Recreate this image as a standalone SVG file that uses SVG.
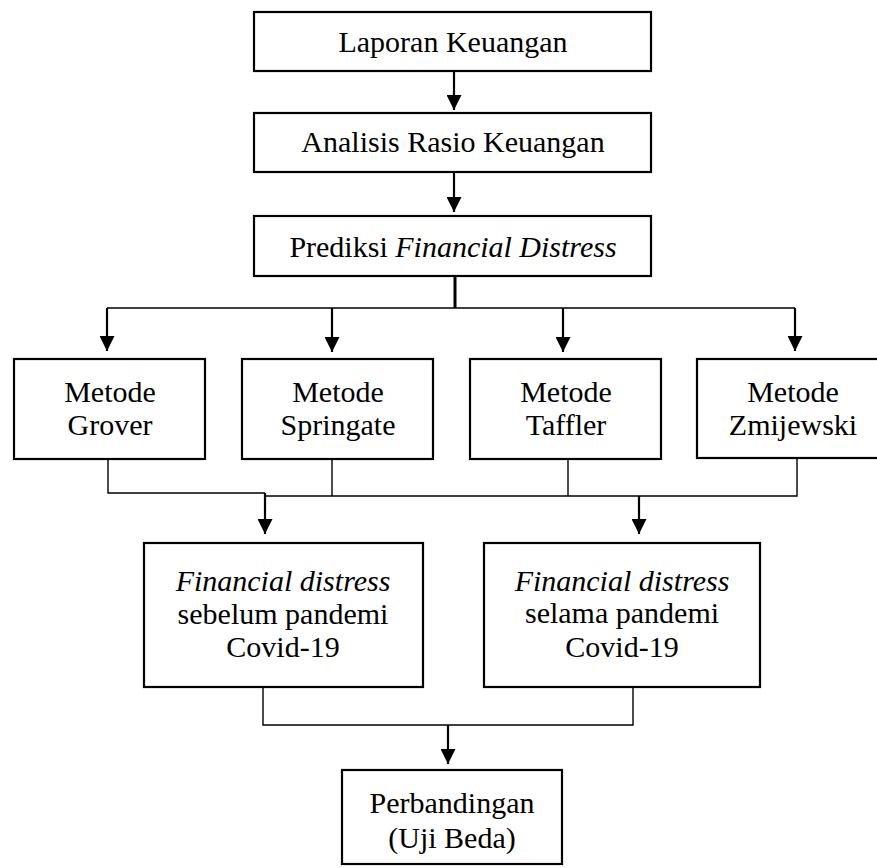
<svg xmlns="http://www.w3.org/2000/svg" width="877" height="868" viewBox="0 0 877 868">
<style>
.box{fill:#fff;stroke:#000;stroke-width:2.2}
.t{font-family:"Liberation Serif","Times New Roman",serif;font-size:30px;fill:#000;text-anchor:middle}
.i{font-style:italic}
.ln{fill:none;stroke:#000;stroke-width:1.4}
.ar{fill:none;stroke:#000;stroke-width:2.2}
</style>
<defs>
<marker id="ah" viewBox="0 0 10 10" refX="10" refY="5" markerWidth="15" markerHeight="15" markerUnits="userSpaceOnUse" orient="auto">
<path d="M0,0 L10,5 L0,10 z" fill="#000"/>
</marker>
</defs>
<rect width="877" height="868" fill="#fff"/>
<g id="connectors">
<line class="ar" x1="454" y1="71" x2="454" y2="110" marker-end="url(#ah)"/>
<line class="ar" x1="454" y1="172" x2="454" y2="212" marker-end="url(#ah)"/>
<line x1="455" y1="276" x2="455" y2="308" stroke="#000" stroke-width="3"/>
<line class="ln" x1="107" y1="308" x2="795" y2="308"/>
<line class="ar" x1="107" y1="308" x2="107" y2="351" marker-end="url(#ah)"/>
<line class="ar" x1="332" y1="308" x2="332" y2="352" marker-end="url(#ah)"/>
<line class="ar" x1="563" y1="308" x2="563" y2="352" marker-end="url(#ah)"/>
<line class="ar" x1="795" y1="308" x2="795" y2="351" marker-end="url(#ah)"/>
<polyline class="ln" points="108,459 108,493 265,493"/>
<polyline class="ln" points="332,459 332,496"/>
<polyline class="ln" points="568,459 568,496"/>
<polyline class="ln" points="797,451 797,496 265,496"/>
<line class="ar" x1="265" y1="493" x2="265" y2="534" marker-end="url(#ah)"/>
<line class="ar" x1="639" y1="496" x2="639" y2="534" marker-end="url(#ah)"/>
<polyline class="ln" points="263,687 263,725 633,725 633,687"/>
<line class="ar" x1="448" y1="725" x2="448" y2="764" marker-end="url(#ah)"/>
</g>
<g id="laporan">
<rect class="box" x="254" y="12" width="397" height="59"/>
<text class="t" x="453" y="52">Laporan Keuangan</text>
</g>
<g id="analisis">
<rect class="box" x="254" y="113" width="397" height="59"/>
<text class="t" x="453" y="152">Analisis Rasio Keuangan</text>
</g>
<g id="prediksi">
<rect class="box" x="254" y="216" width="397" height="60"/>
<text class="t" x="453" y="257">Prediksi <tspan class="i">Financial Distress</tspan></text>
</g>
<g id="grover">
<rect class="box" x="14" y="359" width="191" height="100"/>
<text class="t" x="110" y="402">Metode</text>
<text class="t" x="110" y="435">Grover</text>
</g>
<g id="springate">
<rect class="box" x="242" y="359" width="191" height="100"/>
<text class="t" x="338" y="402">Metode</text>
<text class="t" x="338" y="435">Springate</text>
</g>
<g id="taffler">
<rect class="box" x="470" y="359" width="191" height="100"/>
<text class="t" x="566" y="402">Metode</text>
<text class="t" x="566" y="435">Taffler</text>
</g>
<g id="zmijewski">
<rect class="box" x="697" y="359" width="192" height="99"/>
<text class="t" x="793" y="402">Metode</text>
<text class="t" x="793" y="435">Zmijewski</text>
</g>
<g id="sebelum">
<rect class="box" x="144" y="543" width="279" height="144"/>
<text class="t i" x="283" y="591">Financial distress</text>
<text class="t" x="283" y="624">sebelum pandemi</text>
<text class="t" x="283" y="657">Covid-19</text>
</g>
<g id="selama">
<rect class="box" x="484" y="543" width="276" height="144"/>
<text class="t i" x="622" y="591">Financial distress</text>
<text class="t" x="622" y="623">selama pandemi</text>
<text class="t" x="622" y="657">Covid-19</text>
</g>
<g id="perbandingan">
<rect class="box" x="342" y="770" width="220" height="94"/>
<text class="t" x="452" y="813">Perbandingan</text>
<text class="t" x="452" y="848">(Uji Beda)</text>
</g>
</svg>
